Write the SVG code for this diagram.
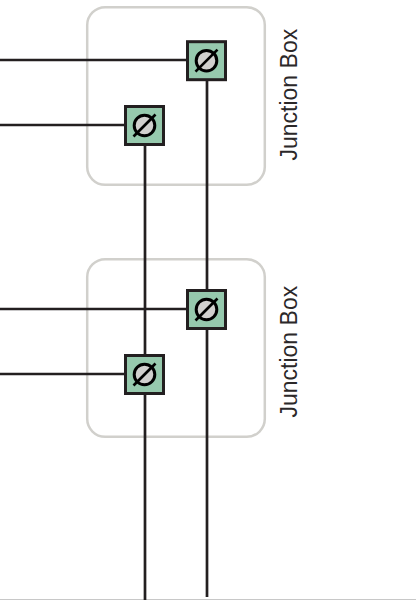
<svg xmlns="http://www.w3.org/2000/svg" width="416" height="600" viewBox="0 0 416 600">
<style>
.box{fill:none;stroke:#d1d0cc;stroke-width:2.5}
.wire{fill:none;stroke:#231f20;stroke-width:2.7}
.term{fill:#96c9ad;stroke:#231f20;stroke-width:3}
.screw{fill:#d1d0ce;stroke:#000;stroke-width:3}
.slot{stroke:#000;stroke-width:2.6;fill:none}
.lbl{font-family:"Liberation Sans",Arial,sans-serif;font-size:23px;fill:#2b2829}
</style>
<defs>
<g id="t">
<rect class="term" x="-19" y="-19" width="38" height="38"/>
<circle class="screw" cx="0" cy="0" r="10.3"/>
<path class="slot" d="M-11 11L11-11"/>
</g>
</defs>
<rect id="page-edge" x="0" y="599" width="416" height="1" fill="#c8c8c8"/>
<g id="box1"><rect class="box" x="87.2" y="7.2" width="177.6" height="177.6" rx="18"/><text class="lbl" transform="translate(296.5 160.5) rotate(-90)">Junction Box</text></g>
<g id="box2"><rect class="box" x="87.2" y="259.2" width="177.6" height="177.6" rx="18"/><text class="lbl" transform="translate(296.5 417.5) rotate(-90)">Junction Box</text></g>
<g id="connectors">
<path class="wire" d="M0 60H187M207 80V597"/>
<path class="wire" d="M0 125H125M145 145V600"/>
<path class="wire" d="M0 309H187"/>
<path class="wire" d="M0 374H125"/>
</g>
<g id="term1"><use href="#t" x="206.5" y="60.7"/></g>
<g id="term2"><use href="#t" x="144.5" y="125.5"/></g>
<g id="term3"><use href="#t" x="206.5" y="309.5"/></g>
<g id="term4"><use href="#t" x="144.5" y="374.5"/></g>
</svg>
